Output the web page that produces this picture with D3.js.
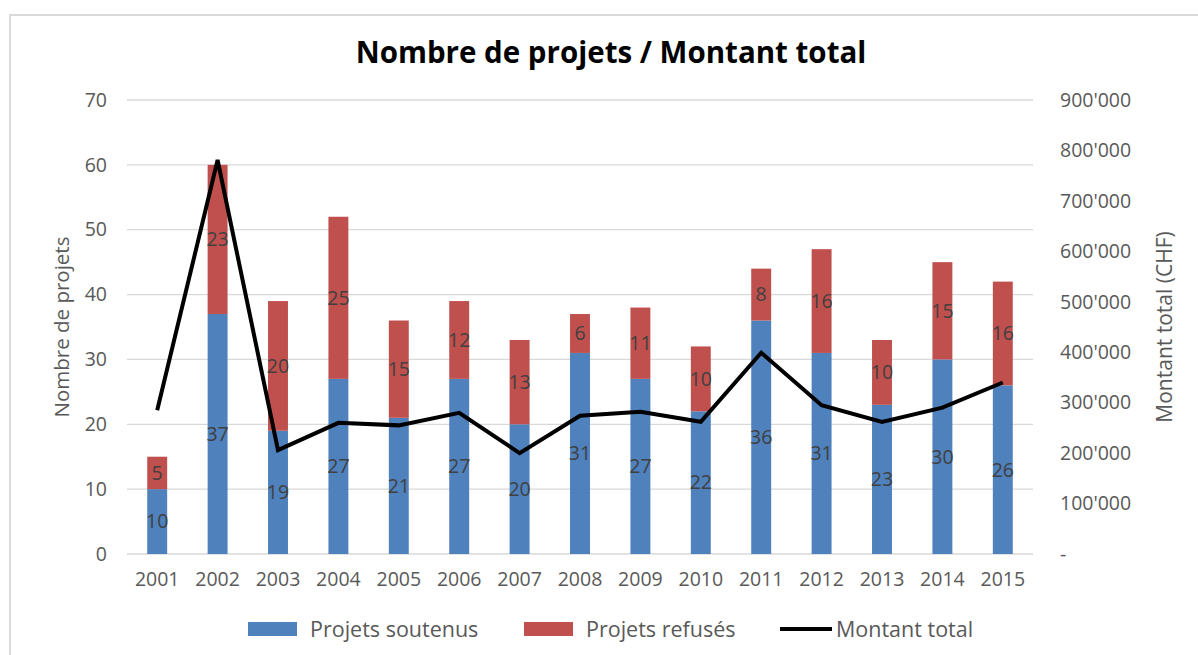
<!DOCTYPE html>
<html>
<head>
<meta charset="utf-8">
<script src="https://cdn.jsdelivr.net/npm/d3@7"></script>
<style>
  body { margin: 0; background: #fff; }
  svg { display: block; }
  svg text { font-family: "Open Sans", "Noto Sans", sans-serif; }
</style>
</head>
<body>
<div id="chart"></div>
<script>
// Données
const years = ['2001','2002','2003','2004','2005','2006','2007','2008','2009','2010','2011','2012','2013','2014','2015'];
const soutenus = [10, 37, 19, 27, 21, 27, 20, 31, 27, 22, 36, 31, 23, 30, 26];
const refuses = [5, 23, 20, 25, 15, 12, 13, 6, 11, 10, 8, 16, 10, 15, 16];
const montant = [285000, 781000, 206000, 260000, 255000, 280000, 200000, 274000, 282000, 262000, 399000, 295000, 262000, 290000, 340000];
const leftTicks = [0, 10, 20, 30, 40, 50, 60, 70];
const rightTicks = [0, 100000, 200000, 300000, 400000, 500000, 600000, 700000, 800000, 900000];

const width = 1198;
const height = 655;
const margin = { top: 100, right: 165, bottom: 101, left: 127 };
const grey = '#595959';

const svg = d3.select('#chart')
    .append('svg')
    .attr('width', width)
    .attr('height', height);

// Cadre du graphique
svg.append('rect')
    .attr('x', 10).attr('y', 15)
    .attr('width', width + 20).attr('height', height + 20)
    .attr('fill', 'none')
    .attr('stroke', '#d9d9d9')
    .attr('stroke-width', 2);

const x = d3.scaleBand()
    .domain(years)
    .range([margin.left, width - margin.right])
    .paddingInner(0.67)
    .paddingOuter(0.335);

const y = d3.scaleLinear()
    .domain([0, 70])
    .range([height - margin.bottom, margin.top]);

const y2 = d3.scaleLinear()
    .domain([0, 900000])
    .range([height - margin.bottom, margin.top]);

// Grille
svg.append('g')
    .selectAll('line')
    .data(leftTicks)
    .enter()
    .append('line')
    .attr('x1', margin.left)
    .attr('x2', width - margin.right)
    .attr('y1', d => y(d))
    .attr('y2', d => y(d))
    .attr('stroke', '#d9d9d9')
    .attr('stroke-width', 1.3);

function styleAxis(g) {
    g.select('.domain').remove();
    g.selectAll('text')
        .attr('fill', grey)
        .style('font-family', '"Open Sans", sans-serif')
        .style('font-size', '19.5px');
}

// Axe gauche
svg.append('g')
    .attr('transform', `translate(${margin.left},0)`)
    .call(d3.axisLeft(y).tickValues(leftTicks).tickSize(0).tickPadding(20))
    .call(styleAxis);

// Axe droit
const fmt = d => d === 0 ? '-' : d3.format(',')(d).replace(/,/g, "'");
svg.append('g')
    .attr('transform', `translate(${width - margin.right},0)`)
    .call(d3.axisRight(y2).tickValues(rightTicks).tickFormat(fmt).tickSize(0).tickPadding(27))
    .call(styleAxis);

// Axe X
svg.append('g')
    .attr('transform', `translate(0,${height - margin.bottom})`)
    .call(d3.axisBottom(x).tickSize(0).tickPadding(18))
    .call(styleAxis);

// Barres empilées
const stackData = years.map((yr, i) => ({ year: yr, soutenus: soutenus[i], refuses: refuses[i] }));
const series = d3.stack().keys(['soutenus', 'refuses'])(stackData);
const colors = { soutenus: '#4f81bd', refuses: '#c0504d' };

const groups = svg.append('g')
    .selectAll('g')
    .data(series)
    .enter()
    .append('g')
    .attr('fill', d => colors[d.key]);

groups.selectAll('rect')
    .data(d => d)
    .enter()
    .append('rect')
    .attr('x', d => x(d.data.year))
    .attr('width', x.bandwidth())
    .attr('y', d => y(d[1]))
    .attr('height', d => y(d[0]) - y(d[1]));

// Étiquettes de données
groups.selectAll('text')
    .data(d => d)
    .enter()
    .append('text')
    .attr('x', d => x(d.data.year) + x.bandwidth() / 2)
    .attr('y', d => y((d[0] + d[1]) / 2))
    .attr('dy', '0.35em')
    .attr('text-anchor', 'middle')
    .attr('fill', '#404040')
    .style('font-size', '19.5px')
    .text(d => d[1] - d[0]);

// Ligne du montant total
const line = d3.line()
    .x((d, i) => x(years[i]) + x.bandwidth() / 2)
    .y(d => y2(d));

svg.append('path')
    .datum(montant)
    .attr('d', line)
    .attr('fill', 'none')
    .attr('stroke', '#000')
    .attr('stroke-width', 4)
    .attr('stroke-linejoin', 'miter');

// Titre
svg.append('text')
    .attr('x', 611)
    .attr('y', 63)
    .attr('text-anchor', 'middle')
    .style('font-size', '29.5px')
    .style('font-weight', 'bold')
    .attr('fill', '#000')
    .text('Nombre de projets / Montant total');

// Titres des axes
svg.append('text')
    .attr('transform', `translate(69,${(margin.top + height - margin.bottom) / 2}) rotate(-90)`)
    .attr('text-anchor', 'middle')
    .attr('fill', grey)
    .style('font-size', '20.5px')
    .text('Nombre de projets');

svg.append('text')
    .attr('transform', `translate(1172,${(margin.top + height - margin.bottom) / 2}) rotate(-90)`)
    .attr('text-anchor', 'middle')
    .attr('fill', grey)
    .style('font-size', '21px')
    .text('Montant total (CHF)');

// Légende
const legend = svg.append('g').attr('transform', 'translate(0,629)');
const legendItems = [
    { label: 'Projets soutenus', type: 'rect', color: colors.soutenus, x: 248 },
    { label: 'Projets refusés', type: 'rect', color: colors.refuses, x: 524 },
    { label: 'Montant total', type: 'line', color: '#000', x: 780 }
];
legendItems.forEach(item => {
    if (item.type === 'rect') {
        legend.append('rect')
            .attr('x', item.x).attr('y', -7)
            .attr('width', 49).attr('height', 14)
            .attr('fill', item.color);
        legend.append('text')
            .attr('x', item.x + 62).attr('y', 0).attr('dy', '0.35em')
            .attr('fill', grey).style('font-size', '21.5px')
            .text(item.label);
    } else {
        legend.append('line')
            .attr('x1', item.x).attr('x2', item.x + 52)
            .attr('y1', 0).attr('y2', 0)
            .attr('stroke', item.color).attr('stroke-width', 4);
        legend.append('text')
            .attr('x', item.x + 56).attr('y', 0).attr('dy', '0.35em')
            .attr('fill', grey).style('font-size', '21.5px')
            .text(item.label);
    }
});
</script>
</body>
</html>
